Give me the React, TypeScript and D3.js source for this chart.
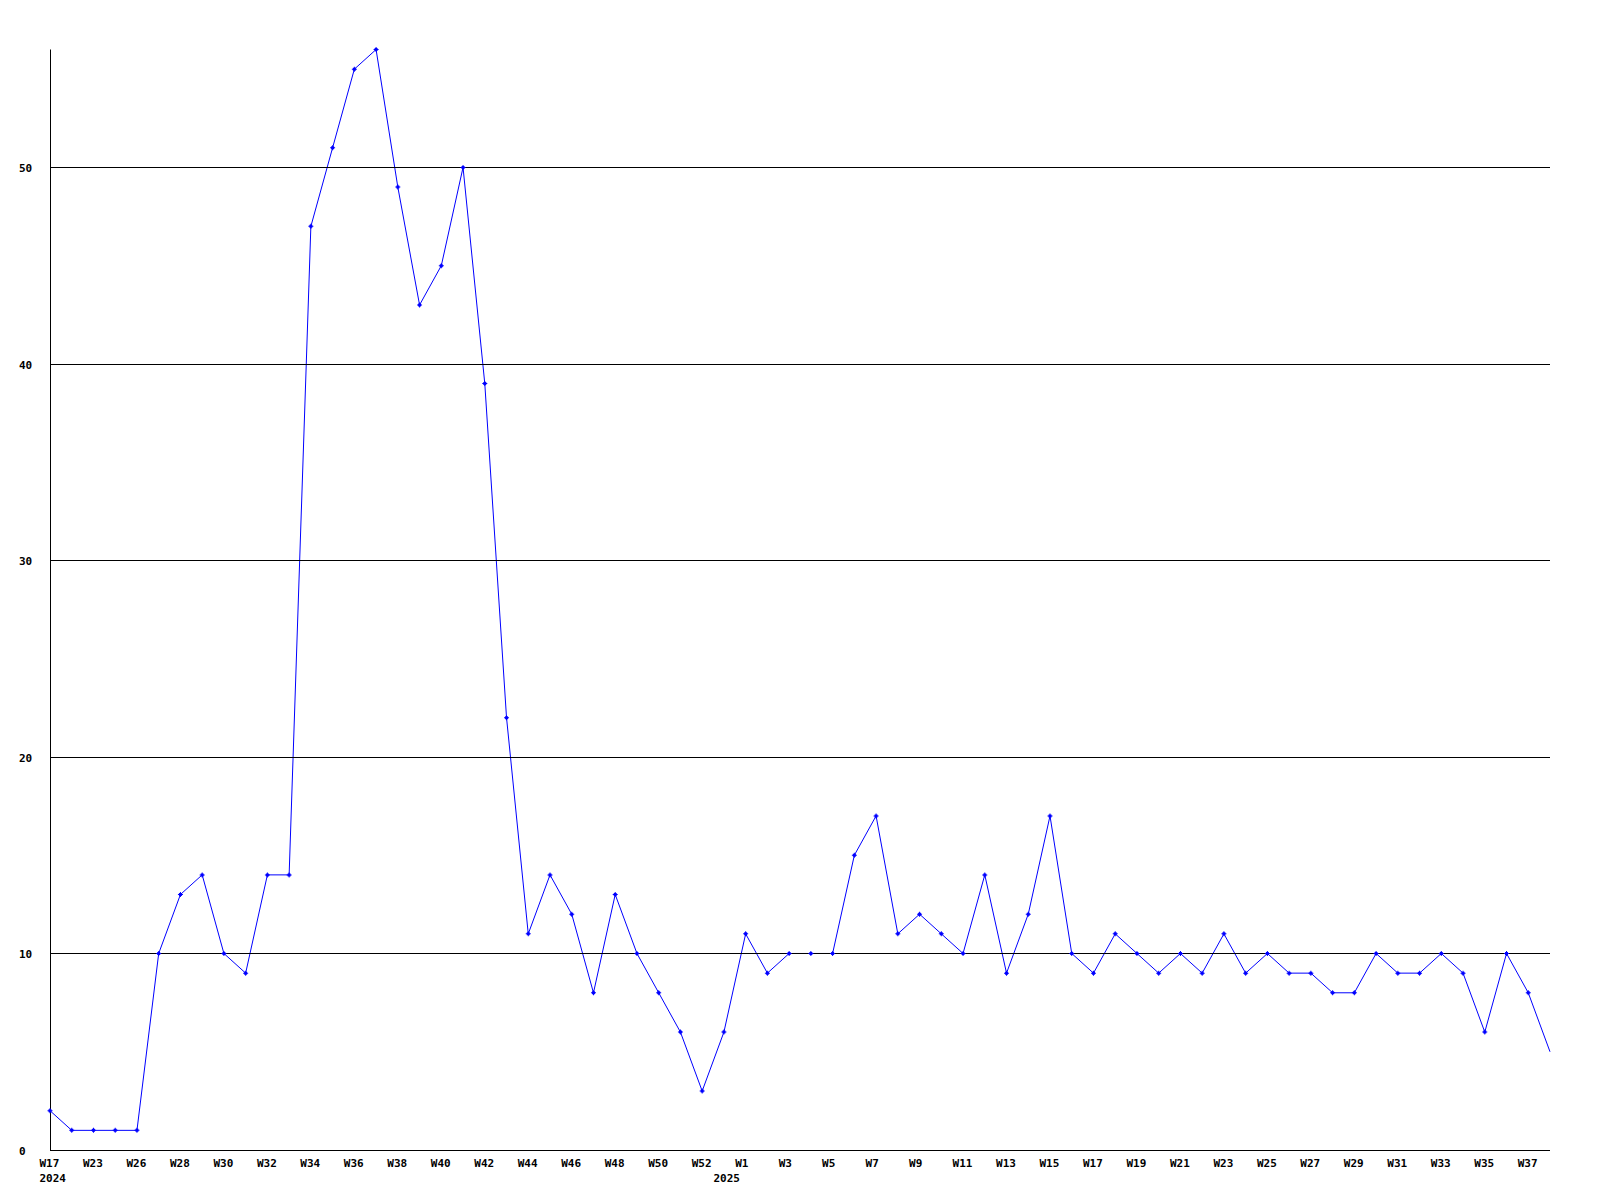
import React from "react";
import * as d3 from "d3";

// Weekly counts, one per week (equally spaced categories)
const values: number[] = [
  2, 1, 1, 1, 1, 10, 13, 14, 10, 9,
  14, 14, 47, 51, 55, 56, 49, 43, 45, 50,
  39, 22, 11, 14, 12, 8, 13, 10, 8, 6,
  3, 6, 11, 9, 10, 10, 10, 15, 17, 11,
  12, 11, 10, 14, 9, 12, 17, 10, 9, 11,
  10, 9, 10, 9, 11, 9, 10, 9, 9, 8,
  8, 10, 9, 9, 10, 9, 6, 10, 8, 5,
];

// Tick labels shown on every other point
const tickLabels: string[] = [
  "W17", "W23", "W26", "W28", "W30", "W32", "W34", "W36", "W38", "W40",
  "W42", "W44", "W46", "W48", "W50", "W52", "W1", "W3", "W5", "W7",
  "W9", "W11", "W13", "W15", "W17", "W19", "W21", "W23", "W25", "W27",
  "W29", "W31", "W33", "W35", "W37",
];

// Year labels: [point index where year starts, label]
const yearIndex: number[] = [0, 31];
const yearLabels: string[] = ["2024", "2025"];

const yTicks: number[] = [0, 10, 20, 30, 40, 50];
const yMax = 56;

const W = 1600;
const H = 1200;
const left = 50;
const right = 1550;
const top = 49.5;
const bottom = 1150;
const font = "'DejaVu Sans Mono', monospace";

export default function App() {
  const x = d3.scaleLinear().domain([0, values.length - 1]).range([left, right]);
  const y = d3.scaleLinear().domain([0, yMax]).range([bottom, top]);
  const line = d3
    .line<number>()
    .x((_, i) => x(i))
    .y((d) => y(d));

  const marker =
    "M-1.5,-1.5h3v3h-3z M-0.5,-2.5h1v5h-1z M-2.5,-0.5h5v1h-5z";

  return (
    <svg
      width={W}
      height={H}
      style={{ position: "absolute", left: 0, top: 0, background: "#fff" }}
    >
      <rect x={0} y={0} width={W} height={H} fill="#fff" />
      <path d={line(values) || ""} fill="none" stroke="#0000ff" strokeWidth={1} />
      {yTicks
        .filter((t) => t > 0)
        .map((t) => (
          <line
            key={"g" + t}
            x1={left}
            x2={right}
            y1={Math.round(y(t)) + 0.5}
            y2={Math.round(y(t)) + 0.5}
            stroke="#000"
            strokeWidth={1}
          />
        ))}
      <line x1={left + 0.5} x2={left + 0.5} y1={top} y2={bottom} stroke="#000" strokeWidth={1} />
      <line x1={left} x2={right} y1={bottom + 0.5} y2={bottom + 0.5} stroke="#000" strokeWidth={1} />
      {values.map((v, i) =>
        i < values.length - 1 ? (
          <path
            key={"m" + i}
            d={marker}
            transform={`translate(${x(i)},${y(v)})`}
            fill="#0000ff"
          />
        ) : null
      )}
      {yTicks.map((t) => (
        <text
          key={"yl" + t}
          x={19}
          y={Math.round(y(t)) + 4.5}
          fontFamily={font}
          fontWeight="bold"
          fontSize={11}
          fill="#000"
        >
          {t}
        </text>
      ))}
      {tickLabels.map((lab, k) => (
        <text
          key={"xl" + k}
          x={x(k * 2) - 10.5}
          y={1167}
          fontFamily={font}
          fontWeight="bold"
          fontSize={11}
          fill="#000"
        >
          {lab}
        </text>
      ))}
      {yearLabels.map((lab, k) => (
        <text
          key={"yr" + k}
          x={x(yearIndex[k]) - 10.5}
          y={1182}
          fontFamily={font}
          fontWeight="bold"
          fontSize={11}
          fill="#000"
        >
          {lab}
        </text>
      ))}
    </svg>
  );
}
